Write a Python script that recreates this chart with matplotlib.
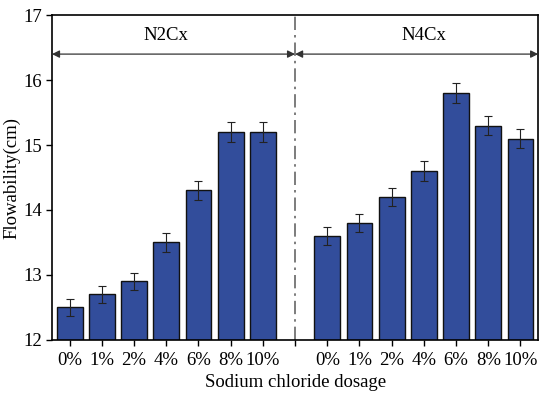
import numpy as np
import matplotlib
matplotlib.use("Agg")
import matplotlib.pyplot as plt

plt.rcParams.update({"font.family": "Liberation Serif", "font.size": 13.5})

dosages = ["0%", "1%", "2%", "4%", "6%", "8%", "10%"]
n2cx = [12.5, 12.7, 12.9, 13.5, 14.3, 15.2, 15.2]
n2cx_err = [0.13, 0.13, 0.13, 0.14, 0.15, 0.15, 0.15]
n4cx = [13.6, 13.8, 14.2, 14.6, 15.8, 15.3, 15.1]
n4cx_err = [0.14, 0.14, 0.14, 0.15, 0.16, 0.15, 0.15]

BAR = "#324d9b"
fig = plt.figure(figsize=(5.5, 3.98), dpi=100)
ax = fig.add_axes([0.0945, 0.146, 0.884, 0.816])

x1 = np.arange(len(dosages))
x2 = x1 + len(dosages) + 1
sep = len(dosages)
err_kw = dict(ecolor="#222222", capsize=3, elinewidth=0.8, capthick=0.8)
ax.bar(x1, n2cx, width=0.8, color=BAR, edgecolor="#111111", lw=1,
       yerr=n2cx_err, error_kw=err_kw)
ax.bar(x2, n4cx, width=0.8, color=BAR, edgecolor="#111111", lw=1,
       yerr=n4cx_err, error_kw=err_kw)

ax.set_xlim(-0.55, x2[-1] + 0.55)
ax.set_ylim(12, 17)
ax.set_yticks([12, 13, 14, 15, 16, 17])
ax.set_xticks(list(x1) + [sep] + list(x2))
ax.set_xticklabels(dosages + [""] + dosages)
ax.tick_params(direction="out", length=4, width=1, top=False, right=False)
ax.tick_params(axis="y", pad=3)
ax.tick_params(axis="x", pad=5)
for s in ax.spines.values():
    s.set_linewidth(1.2)

ax.axvline(sep, color="#666666", lw=1.2, ls=(0, (8, 3, 1.5, 3)))

# group arrows
ya = 16.4
lo, hi = ax.get_xlim()
arrow = dict(arrowstyle="<|-|>", color="#333333", lw=0.9,
             shrinkA=0, shrinkB=0, mutation_scale=11)
ax.annotate("", xy=(lo, ya), xytext=(sep, ya), arrowprops=arrow)
ax.annotate("", xy=(sep, ya), xytext=(hi, ya), arrowprops=arrow)
ax.text(x1.mean(), 16.56, "N2Cx", ha="center", va="bottom")
ax.text(x2.mean(), 16.56, "N4Cx", ha="center", va="bottom")

ax.set_ylabel("Flowability(cm)", labelpad=2)
ax.set_xlabel("Sodium chloride dosage", labelpad=3)

fig.savefig("out.png")
